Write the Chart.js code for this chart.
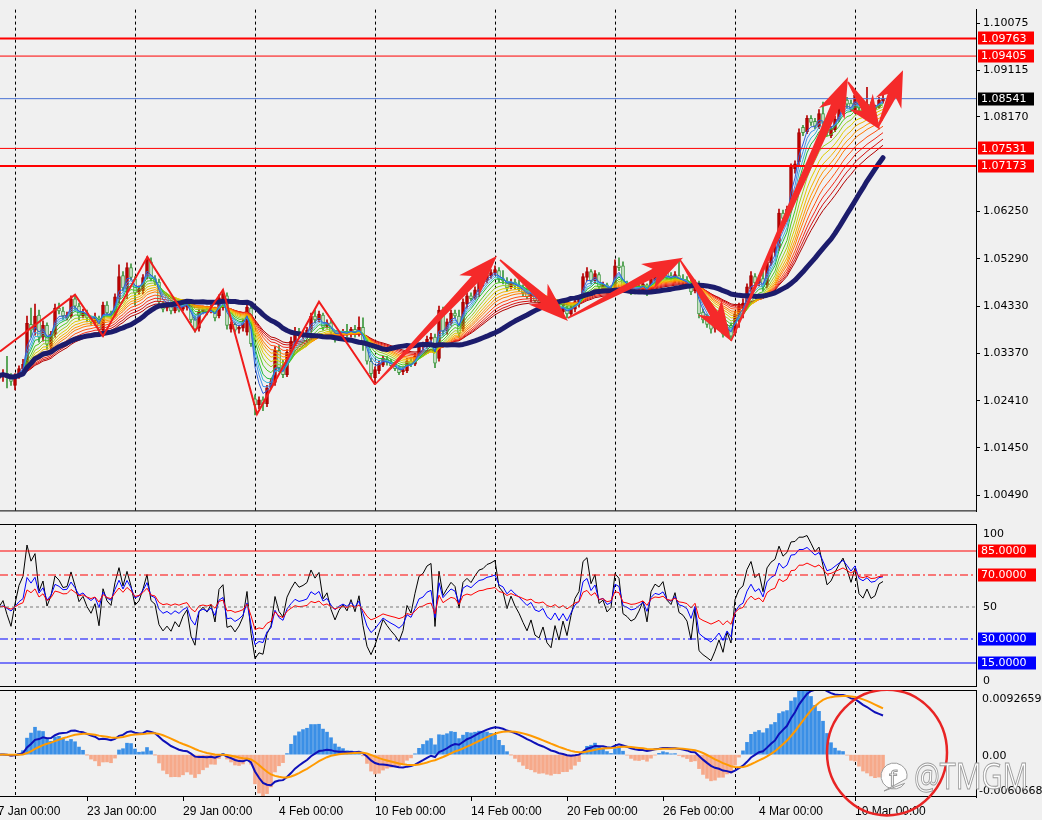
<!DOCTYPE html>
<html>
<head>
<meta charset="utf-8">
<script src="https://cdn.jsdelivr.net/npm/chart.js@4.4.1/dist/chart.umd.min.js"></script>
<style>
  html, body { margin: 0; padding: 0; background: #f0f0f0; }
  #wrap { position: relative; width: 1042px; height: 820px; overflow: hidden; }
  canvas { position: absolute; left: 0; }
</style>
</head>
<body>
<div id="wrap">
  <canvas id="priceChart" width="1042" height="521" style="top:0"></canvas>
  <canvas id="rsiChart" width="1042" height="163" style="top:524px"></canvas>
  <canvas id="macdChart" width="1042" height="130" style="top:690px"></canvas>
</div>
<script>
// --- data (EURUSD H4, bars counted from 17 Jan 00:00) ---
const firstBar = 2;
const dateLabels = ["17 Jan 00:00", "23 Jan 00:00", "29 Jan 00:00", "4 Feb 00:00", "10 Feb 00:00",
                    "14 Feb 00:00", "20 Feb 00:00", "26 Feb 00:00", "4 Mar 00:00", "10 Mar 00:00"];
const dateBars = [0, 24, 48, 72, 96, 120, 144, 168, 192, 216];
const weekBars = [6, 36, 66, 96, 126, 156, 186, 216];

const opens = [
  1.0286,1.0292,1.0296,1.0288,1.0272,1.0292,1.0306,1.0312,1.0396,1.0384,
  1.0415,1.0370,1.0394,1.0351,1.0376,1.0429,1.0423,1.0409,1.0413,1.0448,
  1.0433,1.0413,1.0419,1.0409,1.0399,1.0409,1.0384,1.0435,1.0419,1.0415,
  1.0448,1.0495,1.0468,1.0511,1.0488,1.0462,1.0464,1.0493,1.0523,1.0489,
  1.0482,1.0439,1.0429,1.0433,1.0423,1.0433,1.0427,1.0431,1.0441,1.0407,
  1.0388,1.0421,1.0427,1.0421,1.0427,1.0413,1.0439,1.0454,1.0386,1.0396,
  1.0386,1.0388,1.0380,1.0429,1.0245,1.0233,1.0243,1.0235,1.0269,1.0278,
  1.0343,1.0312,1.0294,1.0339,1.0360,1.0382,1.0374,1.0376,1.0384,1.0413,
  1.0405,1.0415,1.0392,1.0399,1.0378,1.0368,1.0374,1.0382,1.0376,1.0386,
  1.0376,1.0390,1.0358,1.0321,1.0288,1.0302,1.0313,1.0325,1.0319,1.0312,
  1.0306,1.0300,1.0302,1.0321,1.0315,1.0331,1.0351,1.0353,1.0366,1.0370,
  1.0327,1.0425,1.0382,1.0399,1.0419,1.0413,1.0386,1.0437,1.0454,1.0450,
  1.0464,1.0480,1.0486,1.0495,1.0501,1.0505,1.0489,1.0484,1.0472,1.0482,
  1.0476,1.0470,1.0462,1.0452,1.0456,1.0444,1.0441,1.0444,1.0433,1.0425,
  1.0433,1.0421,1.0429,1.0417,1.0427,1.0441,1.0448,1.0491,1.0503,1.0484,
  1.0497,1.0466,1.0476,1.0466,1.0464,1.0515,1.0515,1.0478,1.0470,1.0466,
  1.0468,1.0462,1.0476,1.0464,1.0486,1.0499,1.0491,1.0503,1.0495,1.0484,
  1.0495,1.0488,1.0486,1.0482,1.0464,1.0478,1.0421,1.0409,1.0398,1.0388,
  1.0392,1.0399,1.0378,1.0394,1.0378,1.0413,1.0429,1.0437,1.0468,1.0493,
  1.0480,1.0489,1.0476,1.0521,1.0542,1.0552,1.0622,1.0611,1.0634,1.0712,
  1.0726,1.0796,1.0787,1.0814,1.0808,1.0796,1.0824,1.0806,1.0779,1.0791,
  1.0812,1.0834,1.0851,1.0845,1.0828,1.0855,1.0841,1.0832,1.0843,1.0832,
  1.0837,1.0849
];
const highs = [
  1.0296,1.0304,1.0331,1.0296,1.0296,1.0312,1.0325,1.0413,1.0429,1.0437,
  1.0425,1.0403,1.0399,1.0382,1.0437,1.0439,1.0431,1.0421,1.0454,1.0456,
  1.0439,1.0427,1.0425,1.0413,1.0419,1.0413,1.0441,1.0442,1.0423,1.0458,
  1.0517,1.0503,1.0521,1.0519,1.0493,1.0474,1.0497,1.0533,1.0531,1.0495,
  1.0488,1.0442,1.0439,1.0441,1.0437,1.0439,1.0439,1.0444,1.0446,1.0413,
  1.0427,1.0433,1.0433,1.0435,1.0431,1.0456,1.0466,1.0460,1.0401,1.0399,
  1.0394,1.0405,1.0439,1.0437,1.0253,1.0249,1.0249,1.0272,1.0286,1.0351,
  1.0353,1.0323,1.0345,1.0370,1.0390,1.0388,1.0384,1.0390,1.0419,1.0425,
  1.0423,1.0419,1.0405,1.0407,1.0382,1.0382,1.0386,1.0396,1.0390,1.0394,
  1.0411,1.0409,1.0364,1.0327,1.0310,1.0321,1.0331,1.0331,1.0325,1.0317,
  1.0312,1.0310,1.0327,1.0327,1.0337,1.0357,1.0360,1.0372,1.0378,1.0376,
  1.0433,1.0431,1.0407,1.0425,1.0425,1.0425,1.0448,1.0460,1.0460,1.0472,
  1.0486,1.0491,1.0503,1.0507,1.0515,1.0511,1.0505,1.0491,1.0488,1.0488,
  1.0486,1.0476,1.0470,1.0464,1.0460,1.0450,1.0450,1.0446,1.0442,1.0439,
  1.0437,1.0435,1.0433,1.0433,1.0446,1.0454,1.0499,1.0511,1.0507,1.0505,
  1.0501,1.0482,1.0480,1.0474,1.0527,1.0531,1.0523,1.0484,1.0474,1.0472,
  1.0476,1.0482,1.0478,1.0495,1.0505,1.0505,1.0507,1.0509,1.0501,1.0503,
  1.0527,1.0497,1.0493,1.0488,1.0486,1.0484,1.0427,1.0417,1.0407,1.0398,
  1.0405,1.0407,1.0396,1.0399,1.0423,1.0439,1.0448,1.0478,1.0503,1.0499,
  1.0495,1.0503,1.0531,1.0550,1.0560,1.0630,1.0628,1.0636,1.0722,1.0728,
  1.0793,1.0800,1.0820,1.0820,1.0814,1.0832,1.0847,1.0812,1.0798,1.0818,
  1.0837,1.0859,1.0857,1.0851,1.0871,1.0859,1.0849,1.0877,1.0847,1.0841,
  1.0857,1.0863
];
const lows = [
  1.0276,1.0280,1.0267,1.0272,1.0263,1.0286,1.0300,1.0304,1.0370,1.0374,
  1.0360,1.0362,1.0345,1.0341,1.0370,1.0417,1.0405,1.0405,1.0409,1.0425,
  1.0405,1.0409,1.0401,1.0396,1.0394,1.0378,1.0372,1.0413,1.0407,1.0411,
  1.0439,1.0464,1.0448,1.0486,1.0435,1.0456,1.0458,1.0488,1.0484,1.0476,
  1.0437,1.0421,1.0423,1.0417,1.0419,1.0421,1.0423,1.0425,1.0399,1.0380,
  1.0382,1.0417,1.0415,1.0419,1.0403,1.0409,1.0425,1.0386,1.0380,1.0380,
  1.0378,1.0382,1.0374,1.0351,1.0212,1.0225,1.0221,1.0229,1.0265,1.0272,
  1.0300,1.0288,1.0290,1.0335,1.0355,1.0368,1.0366,1.0368,1.0380,1.0399,
  1.0401,1.0384,1.0388,1.0374,1.0360,1.0364,1.0368,1.0370,1.0370,1.0370,
  1.0372,1.0343,1.0315,1.0288,1.0274,1.0296,1.0310,1.0313,1.0306,1.0302,
  1.0294,1.0294,1.0298,1.0310,1.0312,1.0327,1.0343,1.0347,1.0360,1.0308,
  1.0321,1.0374,1.0376,1.0394,1.0409,1.0370,1.0382,1.0429,1.0444,1.0446,
  1.0452,1.0474,1.0480,1.0489,1.0497,1.0482,1.0478,1.0464,1.0468,1.0468,
  1.0464,1.0454,1.0448,1.0442,1.0441,1.0437,1.0435,1.0427,1.0423,1.0421,
  1.0417,1.0417,1.0409,1.0413,1.0421,1.0431,1.0444,1.0484,1.0478,1.0480,
  1.0468,1.0460,1.0458,1.0460,1.0460,1.0505,1.0464,1.0464,1.0456,1.0458,
  1.0460,1.0460,1.0454,1.0460,1.0482,1.0491,1.0488,1.0486,1.0482,1.0480,
  1.0478,1.0476,1.0472,1.0456,1.0460,1.0409,1.0399,1.0390,1.0378,1.0380,
  1.0386,1.0370,1.0372,1.0364,1.0374,1.0390,1.0409,1.0431,1.0460,1.0472,
  1.0474,1.0464,1.0470,1.0515,1.0535,1.0546,1.0605,1.0605,1.0628,1.0703,
  1.0720,1.0779,1.0783,1.0800,1.0793,1.0793,1.0800,1.0779,1.0775,1.0787,
  1.0808,1.0830,1.0835,1.0828,1.0824,1.0828,1.0824,1.0828,1.0828,1.0824,
  1.0835,1.0845
];
const closes = [
  1.0292,1.0296,1.0288,1.0280,1.0292,1.0306,1.0315,1.0398,1.0384,1.0413,
  1.0370,1.0394,1.0355,1.0376,1.0429,1.0423,1.0413,1.0415,1.0448,1.0433,
  1.0413,1.0421,1.0409,1.0401,1.0411,1.0384,1.0435,1.0419,1.0413,1.0452,
  1.0493,1.0470,1.0511,1.0491,1.0460,1.0468,1.0491,1.0527,1.0488,1.0482,
  1.0442,1.0427,1.0433,1.0423,1.0433,1.0425,1.0435,1.0441,1.0405,1.0386,
  1.0421,1.0427,1.0421,1.0429,1.0409,1.0450,1.0458,1.0394,1.0396,1.0384,
  1.0390,1.0399,1.0431,1.0357,1.0233,1.0243,1.0235,1.0267,1.0280,1.0343,
  1.0308,1.0294,1.0339,1.0362,1.0382,1.0374,1.0378,1.0384,1.0413,1.0405,
  1.0417,1.0390,1.0399,1.0380,1.0366,1.0376,1.0382,1.0376,1.0386,1.0376,
  1.0390,1.0360,1.0321,1.0296,1.0304,1.0315,1.0327,1.0319,1.0312,1.0306,
  1.0298,1.0304,1.0321,1.0315,1.0331,1.0351,1.0355,1.0366,1.0370,1.0317,
  1.0425,1.0382,1.0401,1.0419,1.0413,1.0378,1.0441,1.0454,1.0448,1.0466,
  1.0482,1.0486,1.0497,1.0501,1.0507,1.0488,1.0484,1.0470,1.0482,1.0474,
  1.0468,1.0460,1.0452,1.0458,1.0444,1.0441,1.0446,1.0431,1.0425,1.0435,
  1.0421,1.0431,1.0417,1.0429,1.0442,1.0448,1.0493,1.0503,1.0484,1.0499,
  1.0472,1.0476,1.0464,1.0468,1.0515,1.0511,1.0472,1.0468,1.0462,1.0464,
  1.0470,1.0478,1.0460,1.0489,1.0499,1.0497,1.0503,1.0491,1.0488,1.0497,
  1.0484,1.0482,1.0478,1.0462,1.0480,1.0417,1.0405,1.0396,1.0386,1.0392,
  1.0399,1.0376,1.0390,1.0372,1.0417,1.0433,1.0439,1.0472,1.0495,1.0480,
  1.0489,1.0472,1.0523,1.0542,1.0552,1.0622,1.0611,1.0630,1.0716,1.0722,
  1.0785,1.0785,1.0814,1.0806,1.0798,1.0824,1.0806,1.0785,1.0793,1.0812,
  1.0832,1.0853,1.0843,1.0832,1.0861,1.0835,1.0830,1.0843,1.0834,1.0837,
  1.0851,1.08541
];

const priceTicks = [1.10075, 1.09115, 1.08170, 1.06250, 1.05290, 1.04330, 1.03370, 1.02410, 1.01450, 1.00490];
const redLevels = [1.09763, 1.09405, 1.07531, 1.07173];
const bidPrice = 1.08541;
const rsiLevels = [85, 70, 50, 30, 15];
const macdTop = 0.0092659;
const macdBottom = -0.0060668;

// indicator settings
const ribbonPeriods = [3, 4, 5, 6, 8, 10, 12, 14, 16, 18, 21, 24, 27, 30];
const trendPeriod = 34;
const rsiPeriods = [6, 12, 24];
const macdPeriods = [12, 26, 9];
const histScale = 3;

// hand-drawn marks on the chart (bar index, price)
const zigzagBars = [2.25, 21, 28, 39.1, 51, 58, 66.5, 82, 96];
const zigzagPrices = [1.0341, 1.0456, 1.0372, 1.0533, 1.0382, 1.0466, 1.0214, 1.0442, 1.0274];
const arrowTailBars = [96, 127.25, 144.25, 172.25, 185, 214.25, 221.75];
const arrowTailPrices = [1.0274, 1.0527, 1.0409, 1.0527, 1.0362, 1.0888, 1.0796];
const arrowTipBars = [126.5, 144.25, 173, 185, 214.25, 222.25, 228];
const arrowTipPrices = [1.0535, 1.0403, 1.0531, 1.0362, 1.0898, 1.0791, 1.0912];

// --- helpers ---
const X_MIN = 2.25, X_MAX = 246.25;
const bars = closes.map((c, k) => firstBar + k);
const isBull = closes.map((c, k) => c >= opens[k]);

function emaOf(src, n) {
  const a = 2 / (n + 1);
  let prev = src[0];
  return src.map((v, k) => (prev = k === 0 ? v : prev + a * (v - prev)));
}
function smaOf(src, n) {
  return src.map((v, k) => {
    const from = Math.max(0, k - n + 1);
    let s = 0;
    for (let j = from; j <= k; j++) s += src[j];
    return s / (k - from + 1);
  });
}
function rsiOf(src, n) {
  let seed = 0;
  for (let k = 1; k <= n; k++) seed += Math.abs(src[k] - src[k - 1]);
  let ag = seed / n / 2, al = seed / n / 2;
  return src.map((v, k) => {
    if (k > 0) {
      const d = v - src[k - 1];
      ag = (ag * (n - 1) + Math.max(d, 0)) / n;
      al = (al * (n - 1) + Math.max(-d, 0)) / n;
    }
    return 100 - 100 / (1 + ag / al);
  });
}
const pts = arr => arr.map((v, k) => ({ x: bars[k], y: v }));
function hLine(v, color, width, dash) {
  return { type: 'line', data: [{ x: X_MIN, y: v }, { x: X_MAX, y: v }], borderColor: color,
           borderWidth: width, borderDash: dash || [], pointRadius: 0, order: 0 };
}

Chart.defaults.font.family = '"DejaVu Sans", sans-serif';

function gridX() {
  return {
    type: 'linear', min: X_MIN, max: X_MAX, offset: false,
    afterBuildTicks: s => { s.ticks = weekBars.map(v => ({ value: v })); },
    afterFit: s => { s.height = 0; s.paddingLeft = 0; s.paddingRight = 0; },
    ticks: { display: false },
    grid: { color: '#000', lineWidth: 1, drawTicks: false, offset: false },
    border: { display: false, dash: [3, 3] }
  };
}
function rightY(min, max, extra) {
  return Object.assign({
    position: 'right', min: min, max: max,
    afterFit: s => { s.width = 66; },
    ticks: { display: false },
    grid: { drawOnChartArea: false, drawTicks: false },
    border: { color: '#000' }
  }, extra || {});
}
const baseOpts = {
  responsive: false, animation: false, devicePixelRatio: 1, events: [],
  layout: { padding: 0 },
  plugins: { legend: { display: false }, tooltip: { enabled: false } }
};

function frameLines(ctx, a, top, bottom) {
  ctx.save();
  ctx.strokeStyle = '#000';
  ctx.lineWidth = 1;
  ctx.beginPath();
  if (top) { ctx.moveTo(0, a.top + 0.5); ctx.lineTo(a.right, a.top + 0.5); }
  if (bottom) { ctx.moveTo(0, a.bottom - 0.5); ctx.lineTo(a.right, a.bottom - 0.5); }
  ctx.stroke();
  ctx.restore();
}
function tagBox(ctx, y, text, bg, w) {
  ctx.fillStyle = bg;
  ctx.fillRect(978, Math.round(y) - 6.5, w, 13);
  ctx.fillStyle = '#fff';
  ctx.fillText(text, 981, y + 0.5);
}
function drawArrow(ctx, x0, y0, x1, y1) {
  const dx = x1 - x0, dy = y1 - y0, len = Math.hypot(dx, dy);
  const ux = dx / len, uy = dy / len, nx = -uy, ny = ux;
  const head = Math.min(32, len * 0.45), halfW = 14, notch = 8, shaft = 4.5, tail = 0.8;
  const bx = x1 - ux * head, by = y1 - uy * head;
  const cx = bx - ux * notch, cy = by - uy * notch;
  ctx.beginPath();
  ctx.moveTo(x0 + nx * tail, y0 + ny * tail);
  ctx.lineTo(bx + nx * shaft, by + ny * shaft);
  ctx.lineTo(cx + nx * halfW, cy + ny * halfW);
  ctx.lineTo(x1, y1);
  ctx.lineTo(cx - nx * halfW, cy - ny * halfW);
  ctx.lineTo(bx - nx * shaft, by - ny * shaft);
  ctx.lineTo(x0 - nx * tail, y0 - ny * tail);
  ctx.closePath();
  ctx.fill();
}

// --- price panel ---
const ribbonColors = ['#2f5fd8', '#3f8fe8', '#38b4d8', '#1fb83a', '#4cc81e', '#9acd20', '#dccc00',
                      '#f0b400', '#ff9800', '#ff7800', '#ff5010', '#f02a1a', '#d41212', '#b00000'];
const priceSets = [];
priceSets.push({
  type: 'bar', data: bars.map((b, k) => ({ x: b, y: [lows[k], highs[k]] })),
  backgroundColor: isBull.map(u => u ? '#b80000' : '#3c963c'),
  barThickness: 1, grouped: false, borderWidth: 0, order: 40
});
priceSets.push({
  type: 'bar', data: bars.map((b, k) => ({ x: b, y: [opens[k], closes[k]] })),
  backgroundColor: isBull.map(u => u ? '#c00000' : '#dcecdc'),
  borderColor: isBull.map(u => u ? '#a00000' : '#3c963c'),
  borderWidth: 1, borderSkipped: false, barThickness: 3, minBarLength: 1, grouped: false, order: 39
});
ribbonPeriods.forEach((n, j) => {
  priceSets.push({
    type: 'line', data: pts(emaOf(closes, n)), borderColor: ribbonColors[j], borderWidth: 1,
    pointRadius: 0, tension: 0, order: 20 + j
  });
});
priceSets.push({
  type: 'line', data: pts(smaOf(closes, trendPeriod)), borderColor: '#1c1c6c', borderWidth: 5,
  borderJoinStyle: 'round', borderCapStyle: 'round', pointRadius: 0, tension: 0, order: 10
});
const redWidths = [2, 1, 1, 2];
redLevels.forEach((v, j) => priceSets.push(hLine(v, '#ff0000', redWidths[j])));
priceSets.push(hLine(bidPrice, '#4a72d4', 1));
priceSets.push({
  type: 'line', data: zigzagBars.map((b, k) => ({ x: b, y: zigzagPrices[k] })),
  borderColor: '#f01c1c', borderWidth: 2, pointRadius: 0, tension: 0, order: 0
});

const priceDecor = {
  id: 'priceDecor',
  afterDatasetsDraw(chart) {
    const { ctx, scales: { x, y } } = chart;
    ctx.save();
    ctx.fillStyle = '#f52a2a';
    arrowTipBars.forEach((b, k) => {
      drawArrow(ctx, x.getPixelForValue(arrowTailBars[k]), y.getPixelForValue(arrowTailPrices[k]),
                x.getPixelForValue(b), y.getPixelForValue(arrowTipPrices[k]));
    });
    ctx.restore();
  },
  afterDraw(chart) {
    const { ctx, chartArea, scales: { y } } = chart;
    frameLines(ctx, chartArea, false, true);
    ctx.save();
    ctx.font = '11px "DejaVu Sans"';
    ctx.textBaseline = 'middle';
    redLevels.forEach(v => tagBox(ctx, y.getPixelForValue(v), v.toFixed(5), '#ff0000', 56));
    tagBox(ctx, y.getPixelForValue(bidPrice), bidPrice.toFixed(5), '#000000', 56);
    ctx.restore();
  }
};

new Chart(document.getElementById('priceChart'), {
  type: 'bar',
  data: { datasets: priceSets },
  options: Object.assign({}, baseOpts, {
    scales: {
      x: gridX(),
      y: rightY(1.10075 + 14 / 5115, 1.10075 - 507 / 5115, {
        afterBuildTicks: s => { s.ticks = priceTicks.map(v => ({ value: v })); },
        ticks: { display: true, autoSkip: false, color: '#000', padding: 3,
                 font: { family: 'DejaVu Sans', size: 11 }, callback: v => v.toFixed(5) },
        grid: { drawOnChartArea: false, drawTicks: true, tickLength: 4, color: '#000' }
      })
    }
  }),
  plugins: [priceDecor]
});

// --- RSI panel ---
const rsiColors = ['#000000', '#0000ff', '#ff0000'];
const rsiSets = rsiPeriods.map((n, j) => ({
  type: 'line', data: pts(rsiOf(closes, n)), borderColor: rsiColors[j], borderWidth: 1,
  pointRadius: 0, tension: 0, order: 10 - j
}));
rsiSets.push(hLine(85, '#ff0000', 1));
rsiSets.push(hLine(70, '#ff0000', 1, [8, 3, 2, 3]));
rsiSets.push(hLine(50, '#7a7a7a', 1, [3, 3]));
rsiSets.push(hLine(30, '#0000ff', 1, [8, 3, 2, 3]));
rsiSets.push(hLine(15, '#0000ff', 1));

const rsiDecor = {
  id: 'rsiDecor',
  afterDraw(chart) {
    const { ctx, chartArea, scales: { y } } = chart;
    frameLines(ctx, chartArea, true, true);
    ctx.save();
    ctx.font = '11px "DejaVu Sans"';
    ctx.textBaseline = 'middle';
    ctx.fillStyle = '#000';
    ctx.fillText('100', 983, y.getPixelForValue(100) + 7);
    ctx.fillText('50', 983, y.getPixelForValue(50));
    ctx.fillText('0', 983, y.getPixelForValue(0) - 6);
    rsiLevels.filter(v => v !== 50).forEach(v => {
      tagBox(ctx, y.getPixelForValue(v), v.toFixed(4), v > 50 ? '#ff0000' : '#0000ff', 58);
    });
    ctx.restore();
  }
};

new Chart(document.getElementById('rsiChart'), {
  type: 'line',
  data: { datasets: rsiSets },
  options: Object.assign({}, baseOpts, {
    scales: { x: gridX(), y: rightY(0, 163 / 1.6) }
  }),
  plugins: [rsiDecor]
});

// --- MACD panel ---
const emaFast = emaOf(closes, macdPeriods[0]);
const emaSlow = emaOf(closes, macdPeriods[1]);
const macdLine = emaFast.map((v, k) => v - emaSlow[k]);
const signalLine = emaOf(macdLine, macdPeriods[2]);
const histValues = macdLine.map((v, k) => histScale * (v - signalLine[k]));

const macdDecor = {
  id: 'macdDecor',
  afterDraw(chart) {
    const { ctx, chartArea, scales: { x, y } } = chart;
    frameLines(ctx, chartArea, true, true);
    ctx.save();
    ctx.font = '11px "DejaVu Sans"';
    ctx.textBaseline = 'middle';
    ctx.fillStyle = '#000';
    ctx.fillText(macdTop.toFixed(7), 982, y.getPixelForValue(macdTop) + 9);
    ctx.fillText('0.00', 982, y.getPixelForValue(0) + 1);
    ctx.fillText(macdBottom.toFixed(7), 979, y.getPixelForValue(macdBottom) - 6);

    // red circle around the latest bars
    const cx = x.getPixelForValue(224), rx = x.getPixelForValue(239) - cx;
    const cy = y.getPixelForValue(0.0003), ry = y.getPixelForValue(0.0003 - 0.009) - cy;
    ctx.strokeStyle = '#e82424';
    ctx.lineWidth = 2.5;
    ctx.beginPath();
    ctx.ellipse(cx, cy, rx, ry, 0, 0, Math.PI * 2);
    ctx.stroke();

    // watermark
    ctx.lineWidth = 1;
    ctx.strokeStyle = '#9a9a9a';
    ctx.fillStyle = 'rgba(255,255,255,0.92)';
    ctx.beginPath();
    ctx.arc(894, 86, 13, 0.6, Math.PI * 2 + 0.2);
    ctx.lineTo(884, 101);
    ctx.closePath();
    ctx.fill();
    ctx.stroke();
    ctx.font = '22px "DejaVu Sans"';
    ctx.textBaseline = 'alphabetic';
    ctx.strokeText('f', 889, 96);
    ctx.save();
    ctx.translate(914, 99);
    ctx.scale(0.8, 1);
    ctx.font = '36px "Open Sans"';
    ctx.fillText('@TMGM', 0, 0);
    ctx.strokeText('@TMGM', 0, 0);
    ctx.restore();
    ctx.restore();
  }
};

new Chart(document.getElementById('macdChart'), {
  type: 'bar',
  data: {
    datasets: [
      { type: 'bar', data: pts(histValues), barThickness: 3, grouped: false, order: 10,
        backgroundColor: histValues.map(v => v >= 0 ? '#3a8fe6' : '#f6a98a') },
      { type: 'line', data: pts(macdLine), borderColor: '#0e10b8', borderWidth: 2,
        pointRadius: 0, tension: 0, order: 2 },
      { type: 'line', data: pts(signalLine), borderColor: '#ff9a00', borderWidth: 2,
        pointRadius: 0, tension: 0, order: 1 }
    ]
  },
  options: Object.assign({}, baseOpts, {
    scales: {
      x: gridX(),
      x2: {
        type: 'linear', position: 'bottom', min: X_MIN, max: X_MAX, offset: false,
        afterBuildTicks: s => { s.ticks = dateBars.map(v => ({ value: v })); },
        afterFit: s => { s.height = 23; s.paddingLeft = 0; s.paddingRight = 0; },
        ticks: { autoSkip: false, maxRotation: 0, align: 'start', padding: 3, color: '#000',
                 font: { family: 'Liberation Sans', size: 12 }, callback: (v, i) => dateLabels[i] },
        grid: { drawOnChartArea: false, color: '#000', tickLength: 4, offset: false },
        border: { display: false }
      },
      y: rightY(macdBottom, macdTop)
    }
  }),
  plugins: [macdDecor]
});
</script>
</body>
</html>
